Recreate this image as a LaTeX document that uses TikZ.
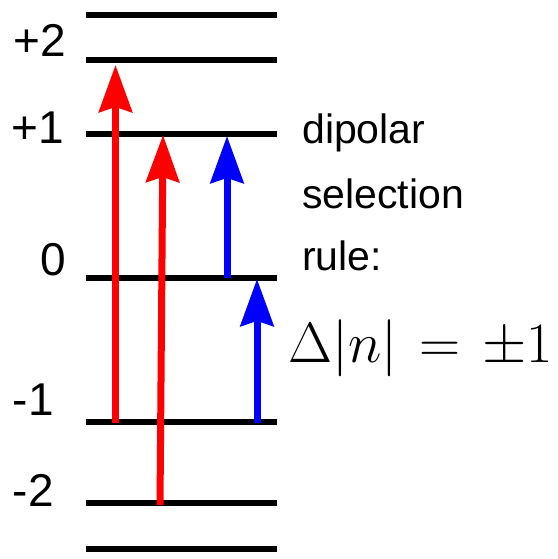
\RequirePackage{fix-cm}
\documentclass[tikz,border=0pt]{standalone}
\usepackage{fontspec}
\newfontfamily\arialf{Liberation Sans}
\usetikzlibrary{arrows.meta}
\begin{document}
\begin{tikzpicture}[x=1pt,y=-1pt,
  level/.style={line width=6pt,black},
  trans/.style={line width=7pt,-{Stealth[length=47pt,width=33pt,inset=5pt]}},
  lab/.style={anchor=base east,inner sep=0pt,font=\arialf\fontsize{46}{50}\selectfont},
  rtext/.style={anchor=base west,inner sep=0pt,font=\arialf\fontsize{41}{46}\selectfont}]
\useasboundingbox (0,0) rectangle (557,559);
% levels
\foreach \n/\y in {a/15,b/60,c/133.5,d/278,e/422,f/503,g/549}{
  \coordinate (L\n l) at (86,\y);
  \coordinate (L\n r) at (277,\y);
  \draw[level] (L\n l) -- (L\n r);
}
% labels
\node[lab] (p2) at (66,57) {+2};
\node[lab] (p1) at (64,143) {+1};
\node[lab] (z0) at (66,275) {0};
\node[lab] (m1) at (54,415) {-1};
\node[lab] (m2) at (54,506) {-2};
% arrows
\coordinate (r1s) at (115.5,423);
\coordinate (r1e) at (115.5,65);
\coordinate (r2s) at (160,505);
\coordinate (r2e) at (163,135);
\coordinate (b1s) at (227,278);
\coordinate (b1e) at (227,136);
\coordinate (b2s) at (257,423);
\coordinate (b2e) at (257,279);
\draw[trans,red] (r1s) -- (r1e);
\draw[trans,red] (r2s) -- (r2e);
\draw[trans,blue] (b1s) -- (b1e);
\draw[trans,blue] (b2s) -- (b2e);
% text
\node[rtext] (t1) at (302,143) {dipolar};
\node[rtext] (t2) at (302,208) {selection};
\node[rtext] (t3) at (302,270) {rule:};
\node[anchor=base west,inner sep=0pt,font=\fontsize{57}{60}\selectfont] (eq) at (288,362) {$\Delta|n|\mskip2mu=\mskip2mu\pm1$};
\end{tikzpicture}
\end{document}
